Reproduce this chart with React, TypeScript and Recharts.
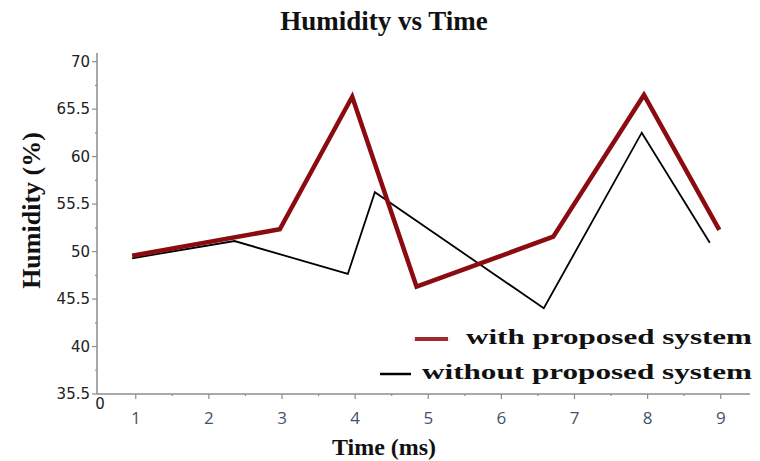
import { Line, LineChart, XAxis, YAxis } from "recharts"

// values
const withX = [0.95, 2.97, 3.96, 4.84, 6.71, 7.95, 8.98]
const withY = [49.86, 52.6, 66.36, 46.64, 51.83, 66.54, 52.53]
const withoutX = [0.95, 2.35, 3.9, 4.27, 6.58, 7.92, 8.85]
const withoutY = [49.59, 51.38, 47.96, 56.44, 44.4, 62.63, 51.21]

const xTickLabels = ["1", "2", "3", "4", "5", "6", "7", "8", "9"]
const yTickLabels = ["35.5", "40", "45.5", "50", "55.5", "60", "65.5", "70"]
const seriesNames = ["with proposed system", "without proposed system"]

const W = 760
const H = 461
const AXIS_X = 97
const PLOT_BOTTOM = 394
const X_MIN = 0.47
const X_MAX = 9.4
const Y_MIN = 35.5
const Y_MAX = 70.9

const withData = withX.map((x, i) => ({ x, y: withY[i] }))
const withoutData = withoutX.map((x, i) => ({ x, y: withoutY[i] }))

// major + minor ticks (labels on the reference are evenly spaced)
const yStep = (70 - 35.5) / (yTickLabels.length - 1)
const yTicks: number[] = []
yTickLabels.forEach((_, i) => {
    yTicks.push(35.5 + i * yStep)
    if (i < yTickLabels.length - 1) yTicks.push(35.5 + (i + 0.5) * yStep)
})
const xTicks: number[] = [X_MIN]
xTickLabels.forEach((l, i) => {
    xTicks.push(Number(l))
    if (i < xTickLabels.length - 1) xTicks.push(Number(l) + 0.5)
})

const axisGrey = "#8c8c8c"

function YTick(props: any) {
    const { y, index } = props
    const major = index % 2 === 0
    return (
        <g>
            <line x1={AXIS_X - (major ? 5 : 2)} x2={AXIS_X} y1={y} y2={y} stroke={axisGrey} strokeWidth={1.2} />
            {major && (
                <text x={AXIS_X - 7} y={y} dy={5} textAnchor="end" fill="#222" fontSize={15} fontFamily="DejaVu Sans">
                    {yTickLabels[index / 2]}
                </text>
            )}
        </g>
    )
}

function XTick(props: any) {
    const { x, payload } = props
    const v = payload.value
    if (v === X_MIN) {
        return (
            <text x={x + 3} y={PLOT_BOTTOM + 15} textAnchor="middle" fill="#222" fontSize={15} fontFamily="DejaVu Sans">
                0
            </text>
        )
    }
    const major = Number.isInteger(v)
    return (
        <g>
            <line x1={x} x2={x} y1={PLOT_BOTTOM} y2={PLOT_BOTTOM + (major ? 5 : 2)} stroke={axisGrey} strokeWidth={1.2} />
            {major && (
                <text x={x} y={PLOT_BOTTOM + 30} textAnchor="middle" fill="#44536a" fontSize={17} fontFamily="Open Sans">
                    {String(v)}
                </text>
            )}
        </g>
    )
}

const serif = { fontFamily: "Liberation Serif", fontWeight: 700, fill: "#111" }

export default function App() {
    return (
        <div style={{ position: "absolute", left: 0, top: 0, width: W, height: H, background: "#fff" }}>
            <LineChart width={W} height={H} margin={{ top: 53, right: 10, left: 0, bottom: 0 }}>
                <XAxis
                    type="number"
                    dataKey="x"
                    domain={[X_MIN, X_MAX]}
                    allowDataOverflow
                    ticks={xTicks}
                    interval={0}
                    height={H - PLOT_BOTTOM}
                    tickLine={false}
                    tick={<XTick />}
                    stroke={axisGrey}
                    strokeWidth={1.5}
                />
                <YAxis
                    type="number"
                    domain={[Y_MIN, Y_MAX]}
                    allowDataOverflow
                    ticks={yTicks}
                    interval={0}
                    width={AXIS_X}
                    tickLine={false}
                    tick={<YTick />}
                    stroke={axisGrey}
                    strokeWidth={1.5}
                />
                <Line
                    data={withoutData}
                    dataKey="y"
                    name={seriesNames[1]}
                    stroke="#000"
                    strokeWidth={1.8}
                    dot={false}
                    isAnimationActive={false}
                />
                <Line
                    data={withData}
                    dataKey="y"
                    name={seriesNames[0]}
                    stroke="#8b0b10"
                    strokeWidth={4.5}
                    strokeLinejoin="miter"
                    dot={false}
                    isAnimationActive={false}
                />
            </LineChart>
            <svg width={W} height={H} style={{ position: "absolute", left: 0, top: 0, pointerEvents: "none" }}>
                <defs>
                    <filter id="legendShadow" x="-20%" y="-100%" width="140%" height="400%">
                        <feDropShadow dx="0" dy="3" stdDeviation="2" floodColor="#000" floodOpacity="0.3" />
                    </filter>
                </defs>
                <text x={384} y={30} textAnchor="middle" fontSize={27} {...serif}>
                    Humidity vs Time
                </text>
                <text x={384} y={455} textAnchor="middle" fontSize={24} {...serif}>
                    Time (ms)
                </text>
                <text transform="translate(40, 210.5) rotate(-90)" textAnchor="middle" fontSize={26} {...serif}>
                    Humidity (%)
                </text>
                {/* legend */}
                <line x1={415} y1={338} x2={448} y2={339} stroke="#9e2b2b" strokeWidth={6} filter="url(#legendShadow)" />
                <text x={466} y={344} textLength={286} lengthAdjust="spacingAndGlyphs" fontSize={20} {...serif}>
                    {seriesNames[0]}
                </text>
                <line x1={380} y1={374} x2={411} y2={374} stroke="#000" strokeWidth={2.5} />
                <text x={422} y={379} textLength={330} lengthAdjust="spacingAndGlyphs" fontSize={20} {...serif}>
                    {seriesNames[1]}
                </text>
            </svg>
        </div>
    )
}
